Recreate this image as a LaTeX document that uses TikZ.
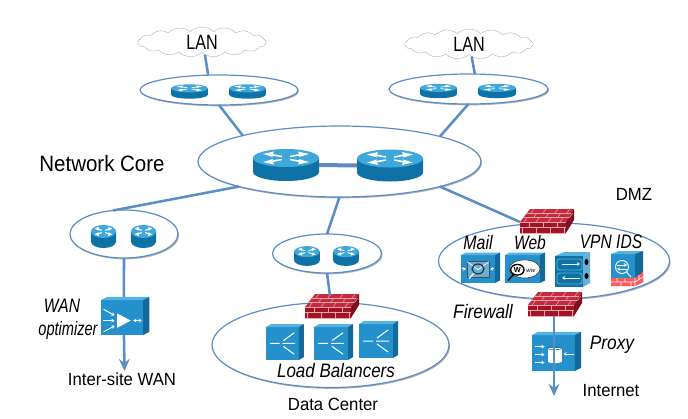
\documentclass[tikz,border=0pt]{standalone}
\usepackage{graphicx}
\usepackage{xcolor}
\usepackage{fontspec}
\setmainfont{Liberation Sans}
\usetikzlibrary{arrows.meta,shapes.geometric,shapes.symbols,shadows}

\definecolor{linkblue}{HTML}{5B8DC6}
\definecolor{rtrtop}{HTML}{3FA7DA}
\definecolor{rtrside}{HTML}{0E72A6}
\definecolor{boxfront}{HTML}{2490CC}
\definecolor{boxtop}{HTML}{55B3E2}
\definecolor{boxside}{HTML}{14699B}
\definecolor{fwfront}{HTML}{A01426}
\definecolor{fwtop}{HTML}{C62A3C}
\definecolor{fwside}{HTML}{7E0F1E}
\definecolor{brick}{HTML}{EDA6AE}

\newcommand{\boxbody}{
	\fill[boxfront] (0,0) rectangle (34,34);
	\fill[boxtop] (0,0) -- (5,-3) -- (39,-3) -- (34,0) -- cycle;
	\fill[boxside] (34,0) -- (39,-3) -- (39,31) -- (34,34) -- cycle;
}

\tikzset{
	every pic/.style={yscale=-1},
	seg/.style={draw=linkblue,line width=.9pt,fill=white,ellipse,inner sep=0pt,outer sep=0pt,
		drop shadow={shadow xshift=.8pt,shadow yshift=-1pt,opacity=.3,fill=black}},
	lancloud/.style={draw=gray!60!cyan!40!black!60,very thin,cloud,cloud puffs=17,cloud puff arc=85,aspect=4.2,
		inner sep=0pt,outer sep=0pt,minimum width=96pt,minimum height=22.5pt,font=\fontsize{15.5}{18}\selectfont},
	link/.style={draw=linkblue,line width=1.9pt},
	wlbl/.style={inner sep=0pt,font=\fontsize{13.2}{15}\selectfont},
	ilbl/.style={inner sep=0pt,font=\fontsize{14.6}{18}\selectfont\itshape},
	gly/.style={draw=white,line width=.75pt},
	glyarr/.style={draw=white,line width=.7pt,-{Stealth[length=2.4pt,width=2.8pt]}},
	pics/router/.style={code={
		\fill[rtrside] (-33,-7) -- (-33,7) arc (180:0:33 and 9) -- (33,-7) -- cycle;
		\fill[rtrtop] (0,-7) ellipse [x radius=33,y radius=9];
		\foreach \a/\b in {1/1,1/-1,-1/1,-1/-1}
			\fill[white] (\a*4,-7+\b*.8) -- (\a*14,-7+\b*2.4) -- (\a*13,-7+\b*1) -- (\a*23,-7+\b*4)
				-- (\a*12,-7+\b*6.5) -- (\a*13,-7+\b*4) -- (\a*4,-7+\b*2.2) -- cycle;
		\coordinate (-l) at (-33,0);
		\coordinate (-r) at (33,0);
	}},
	pics/fwall/.style={code={
		\fill[fwfront] (0,0) rectangle (46,11);
		\fill[fwtop] (0,0) -- (10,-13) -- (54,-13) -- (46,0) -- cycle;
		\fill[fwside] (46,0) -- (54,-13) -- (54,-2) -- (46,11) -- cycle;
		\draw[brick,line width=.4pt] (0,0) -- (46,0) (0,5.5) -- (46,5.5) (0,11) -- (46,11)
			(3.3,-4.3) -- (49.3,-4.3) (6.7,-8.7) -- (51.3,-8.7);
		\foreach \x in {9,23,37} \draw[brick,line width=.4pt] (\x,0) -- (\x,5.5);
		\foreach \x in {2,16,30,44} \draw[brick,line width=.4pt] (\x,5.5) -- (\x,11);
		\foreach \r/\o in {0/4,1/10,2/4} \foreach \k in {0,1,2,3}
			\draw[brick,line width=.4pt] ({\o+\k*12+\r*3.33},{-\r*4.33}) -- ++(3.33,-4.33);
		\coordinate (-nw) at (0,0);
		\coordinate (-n) at (25,-11);
		\coordinate (-s) at (26,11);
	}},
	pics/lbal/.style={code={
		\boxbody
		\draw[gly] (4,17) -- (14,17) (17,17) -- (30,17) (18,14) -- (29,6) (18,20) -- (29,28);
	}},
	pics/wanopt/.style={code={
		\boxbody
		\draw[glyarr] (2,9) -- (11,15);
		\draw[glyarr] (2,20) -- (11,20);
		\draw[glyarr] (2,31) -- (11,25);
		\fill[white] (13,13) -- (24,20) -- (13,27) -- cycle;
		\draw[gly,{Stealth[length=2.4pt,width=2.8pt]}-{Stealth[length=2.4pt,width=2.8pt]}] (26,20) -- (33,20);
		\coordinate (-n) at (18.5,-3);
		\coordinate (-s) at (18.5,34);
	}},
	pics/proxybox/.style={code={
		\boxbody
		\draw[glyarr] (2,11) -- (10,11);
		\draw[glyarr] (2,18.5) -- (10,18.5);
		\draw[glyarr] (2,26) -- (10,26);
		\draw[glyarr] (33,18) -- (25,18);
		\fill[white] (12.5,12) rectangle (23.5,25);
		\fill[white] (18,25) ellipse [x radius=5.5,y radius=1.5];
		\draw[boxside,line width=.4pt] (18,12.5) ellipse [x radius=5.5,y radius=1.5];
	}},
	pics/mailbox/.style={code={
		\boxbody
		\draw[black!70,line width=.4pt,fill=boxfront!70!white] (6,8) rectangle (28,27);
		\draw[white,line width=.5pt] (6,8) -- (17,18) -- (28,8);
		\draw[black!80,line width=.9pt] (17,17) circle [radius=6];
		\draw[white,line width=.8pt] (13,22) -- (8,29);
		\draw[glyarr] (1,17) -- (5,17);
		\draw[glyarr] (33,17) -- (29,17);
	}},
	pics/webbox/.style={code={
		\boxbody
		\draw[black!80,line width=.4pt,fill=white] (19,17) ellipse [x radius=15,y radius=11];
		\draw[black,line width=1pt,fill=white] (12,18) circle [radius=6.5];
		\draw[black,line width=1.1pt] (8,24) -- (3,31);
		\node[inner sep=0pt,font=\fontsize{5.5}{6}\selectfont\bfseries] (-w) at (12,18) {W};
		\node[inner sep=0pt,font=\fontsize{4.5}{6}\selectfont\itshape] (-ww) at (25,19) {ww};
	}},
	pics/vpnbox/.style={code={
		\fill[boxtop] (0,0) -- (9,-4) -- (35,-4) -- (28,0) -- cycle;
		\fill[rtrside] (0,0) rectangle (28,31);
		\fill[boxfront!70!white] (28,0) -- (35,-4) -- (35,27) -- (28,31) -- cycle;
		\draw[boxtop,line width=.6pt,rounded corners=2pt] (2,3) rectangle (27,14) (2,17) rectangle (27,28);
		\fill[black] (31.5,6) ellipse [x radius=2,y radius=3] (31.5,20) ellipse [x radius=2,y radius=3];
		\draw[glyarr] (7,8) -- (25,8);
		\draw[glyarr] (25,22) -- (7,22);
	}},
	pics/idsbox/.style={code={
		\fill[boxfront] (0,0) rectangle (24,32);
		\fill[boxtop] (0,0) -- (8,-3) -- (32,-3) -- (24,0) -- cycle;
		\fill[boxside] (24,0) -- (32,-3) -- (32,28) -- (24,32) -- cycle;
		\fill[red!65!white] (0,24) -- (24,24) -- (32,18) -- (32,28) -- (24,32) -- (0,32) -- cycle;
		\draw[white,line width=.4pt] (0,28) -- (24,28) -- (32,23) (6,24) -- (6,28) (14,24) -- (14,28)
			(20,28) -- (20,32) (10,28) -- (10,32) (24,24) -- (24,32) (28,21) -- (28,26);
		\draw[white,line width=.7pt] (11,13) circle [radius=6.5] (15.5,18) -- (20,23);
		\draw[glyarr] (6,11) -- (16,11);
		\draw[glyarr] (16,15) -- (6,15);
	}},
}

\begin{document}
\begin{tikzpicture}[x=0.75pt,y=0.75pt,yscale=-1,xscale=1]
		\useasboundingbox (0,0) rectangle (688,418);

		% segments
		\node [seg,minimum width=158*0.75pt,minimum height=30*0.75pt] (lanSegA) at (219,90) {};
		\node [seg,minimum width=159*0.75pt,minimum height=30*0.75pt] (lanSegB) at (468.5,89) {};
		\node [seg,minimum width=283*0.75pt,minimum height=71*0.75pt] (coreSeg) at (339.5,161.5) {};
		\node [seg,minimum width=108*0.75pt,minimum height=48*0.75pt] (wanSeg) at (124,234) {};
		\node [seg,minimum width=109*0.75pt,minimum height=39*0.75pt] (dcTopSeg) at (327,253.5) {};
		\node [seg,minimum width=237*0.75pt,minimum height=85*0.75pt] (dcSeg) at (330.5,345) {};
		\node [seg,minimum width=231*0.75pt,minimum height=76*0.75pt] (dmzSeg) at (554,261) {};

		\node [lancloud] (lanA) at (202,42) {\raisebox{-2pt}{\scalebox{.78}[1]{LAN}}};
		\node [lancloud] (lanB) at (469,44) {\raisebox{-1.5pt}{\scalebox{.78}[1]{LAN}}};

		% routers
		\pic [xscale=.56,yscale=.45] at (189.5,91.5) {router};
		\pic [xscale=.56,yscale=.45] at (247.5,91.5) {router};
		\pic [xscale=.56,yscale=.45] at (438.5,91) {router};
		\pic [xscale=.57,yscale=.45] at (497,91) {router};
		\pic (rtrA) at (286,165) {router};
		\pic (rtrB) at (390,165.5) {router};
		\pic [xscale=.38,yscale=.72] at (103.5,236.5) {router};
		\pic [xscale=.38,yscale=.72] at (143.5,236.5) {router};
		\pic [xscale=.39,yscale=.62] at (307,256) {router};
		\pic [xscale=.39,yscale=.62] at (346,256) {router};

		% firewalls
		\pic (fwDmz) at (520,222) {fwall};
		\pic (fwOut) at (528,305) {fwall};
		\pic (fwDc) at (305,307) {fwall};

		% devices
		\pic [xscale=.97,yscale=.97] at (266,327) {lbal};
		\pic [yscale=.97] at (314,327) {lbal};
		\pic at (359,324) {lbal};
		\pic (wanBox) [xscale=1.24,yscale=1.03] at (101,300) {wanopt};
		\pic [xscale=1.26,yscale=1.06] at (532,335) {proxybox};
		\pic [yscale=.82] at (461,255) {mailbox};
		\pic [xscale=1.03,yscale=.82] at (505,255) {webbox};
		\pic at (555,256) {vpnbox};
		\pic at (611,254) {idsbox};

		% links
		\coordinate (wanEnd) at (124.5,371);
		\coordinate (netEnd) at (554,396);
		\draw [link] (lanA.283) -- (lanSegA.126);
		\draw [link] (lanB.282) -- (lanSegB.67);
		\draw [link] (lanSegA.south) -- (coreSeg.165.6);
		\draw [link] (lanSegB.south) -- (coreSeg.14.2);
		\draw [link] (coreSeg.194.4) -- (wanSeg.115);
		\draw [link] (coreSeg.south) -- (dcTopSeg.north);
		\draw [link] (coreSeg.346.6) -- (fwDmz-nw);
		\draw [link] (dcTopSeg.south) -- (fwDc-n);
		\draw [link] (wanSeg.south) -- (wanBox-n);
		\draw [link,-{Stealth[length=9pt,width=8pt]}] (wanBox-s) -- (wanEnd);
		\draw [link,-{Stealth[length=9pt,width=8pt]}] (fwOut-s) -- (netEnd);
		\draw [draw=linkblue!90!gray,line width=3pt] (rtrA-r) -- (rtrB-l);

		% labels
		\node [inner sep=0pt,font=\fontsize{16.7}{20}\selectfont] (coreLbl) at (102,164) {\scalebox{.92}[1]{Network Core}};
		\node [wlbl] (dmzLbl) at (634,194) {\scalebox{.95}[1]{DMZ}};
		\node [ilbl] (mailLbl) at (478,243) {\scalebox{.82}[1]{Mail}};
		\node [ilbl] (webLbl) at (530,243) {\scalebox{.8}[1]{Web}};
		\node [ilbl] (vpnLbl) at (611,242) {\scalebox{.8}[1]{VPN IDS}};
		\node [ilbl] (fwLbl) at (483,312) {\scalebox{.89}[1]{Firewall}};
		\node [ilbl] (proxyLbl) at (612,345) {\scalebox{.89}[1]{Proxy}};
		\node [wlbl] (netLbl) at (611,391) {\scalebox{.95}[1]{Internet}};
		\node [ilbl] (optALbl) at (62,306) {\scalebox{.8}[1]{WAN}};
		\node [ilbl] (optBLbl) at (68,330) {\scalebox{.75}[1]{optimizer}};
		\node [wlbl] (siteLbl) at (122,379) {\scalebox{.95}[1]{Inter-site WAN}};
		\node [ilbl] (balLbl) at (336,371) {\scalebox{.87}[1]{Load Balancers}};
		\node [wlbl] (dcLbl) at (333,404) {\scalebox{.95}[1]{Data Center}};
\end{tikzpicture}
\end{document}
